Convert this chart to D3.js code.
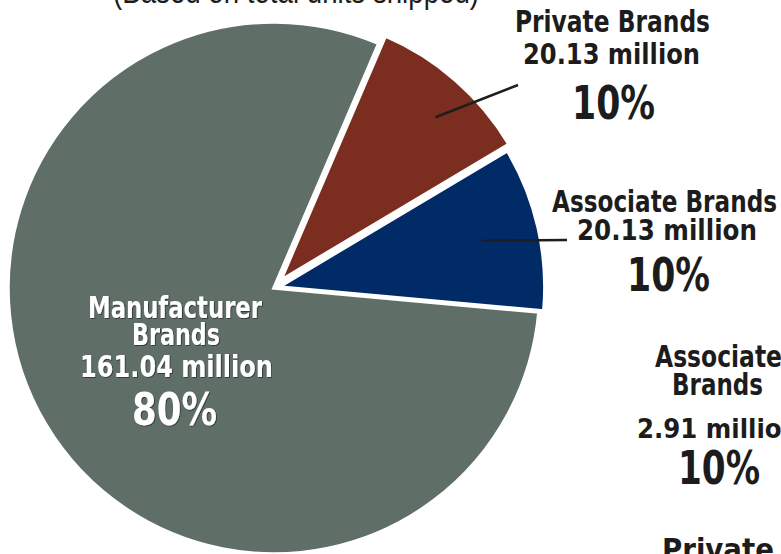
<!DOCTYPE html>
<html>
<head>
<meta charset="utf-8">
<script src="https://cdn.jsdelivr.net/npm/d3@7"></script>
<style>
  html, body { margin: 0; padding: 0; background: #ffffff; }
  svg { display: block; }
  .lbl { font-family: "DejaVu Sans", sans-serif; font-weight: bold; font-stretch: condensed; }
</style>
</head>
<body>
<svg id="chart" width="781" height="554"></svg>
<script>
// Brand share of units (millions)
const categories = ["Private Brands", "Associate Brands", "Manufacturer Brands"];
const values = [20.13, 20.13, 161.04];
const percents = ["10%", "10%", "80%"];
const subtitle = "(Based on total units shipped)";
// Labels of the neighbouring panel on the right
const sideLabels = ["Associate", "Brands", "2.91 million", "10%", "Private"];

const colors = ["#7b2e20", "#002b66", "#5f6e66"];

const svg = d3.select("#chart");
const defs = svg.append("defs");
defs.append("filter").attr("id", "shade")
  .attr("x", "-5%").attr("y", "-10%").attr("width", "110%").attr("height", "130%")
  .append("feDropShadow")
  .attr("dx", 0.8).attr("dy", 0.8).attr("stdDeviation", 0.6)
  .attr("flood-color", "#222a26").attr("flood-opacity", 0.9);

const cx = 274, cy = 288, R = 266;
// small pull-out of the two minor slices along their bisectors
const explode = [10, 5, 0];

const pie = d3.pie().sort(null).value(d => d)
  .startAngle(23.2 * Math.PI / 180)
  .endAngle((23.2 + 360) * Math.PI / 180);
const arcs = pie(values);
const arc = d3.arc().innerRadius(0).outerRadius(R);

const offset = (a, dist) => {
  const m = (a.startAngle + a.endAngle) / 2;
  return [dist * Math.sin(m), -dist * Math.cos(m)];
};

const g = svg.append("g").attr("transform", `translate(${cx},${cy})`);

// draw the large slice first so the pulled-out ones sit on top
const drawOrder = [2, 0, 1];
g.selectAll("path.slice")
  .data(drawOrder.map(i => ({ a: arcs[i], i })))
  .join("path")
  .attr("class", "slice")
  .attr("transform", d => { const o = offset(d.a, explode[d.i]); return `translate(${o[0]},${o[1]})`; })
  .attr("d", d => arc(d.a))
  .attr("fill", d => colors[d.i])
  .attr("stroke", "#ffffff")
  .attr("stroke-width", 3.5)
  .attr("stroke-linejoin", "miter");

// leader lines from inside the minor slices out to their labels
const leaders = [
  { i: 0, r: 225, angle: 43.5, to: [518, 85] },
  { i: 1, r: 208, angle: 77.2, to: [567, 240] }
];
leaders.forEach(l => {
  const o = offset(arcs[l.i], explode[l.i]);
  const t = l.angle * Math.PI / 180;
  const x0 = cx + o[0] + l.r * Math.sin(t);
  const y0 = cy + o[1] - l.r * Math.cos(t);
  svg.append("line")
    .attr("x1", x0).attr("y1", y0)
    .attr("x2", l.to[0]).attr("y2", l.to[1])
    .attr("stroke", "#1e1e1e").attr("stroke-width", 2.6);
});

const fmt = v => d3.format(".2f")(v) + " million";

// text blocks: [text, left x, baseline, size, width]
const blocks = [
  { fill: "#1c1c1c", shade: false, lines: [
    [categories[0], 515, 32, 30, 195],
    [fmt(values[0]), 523, 64, 28, 177],
    [percents[0], 572, 119, 46, 83]
  ]},
  { fill: "#1c1c1c", shade: false, lines: [
    [categories[1], 552, 212, 30, 225],
    [fmt(values[1]), 577, 240, 28, 180],
    [percents[1], 627, 291, 46, 83]
  ]},
  { fill: "#ffffff", shade: true, lines: [
    ["Manufacturer", 88, 318, 31, 174],
    ["Brands", 132, 345, 31, 88],
    [fmt(values[2]), 80, 377, 31, 193],
    [percents[2], 132, 425, 44, 85]
  ]},
  { fill: "#1c1c1c", shade: false, lines: [
    [sideLabels[0], 655, 367, 30, 127],
    [sideLabels[1], 672, 395, 30, 91],
    [sideLabels[2], 637, 438, 27, 162],
    [sideLabels[3], 678, 484, 46, 82],
    [sideLabels[4], 662, 560, 30, 112]
  ]}
];

blocks.forEach(b => {
  const tg = svg.append("g").attr("fill", b.fill);
  if (b.shade) tg.attr("filter", "url(#shade)");
  tg.selectAll("text").data(b.lines).join("text")
    .attr("class", "lbl")
    .attr("x", d => d[1]).attr("y", d => d[2])
    .attr("font-size", d => d[3])
    .attr("textLength", d => d[4])
    .attr("lengthAdjust", "spacingAndGlyphs")
    .text(d => d[0]);
});

// subtitle, mostly above the visible area
svg.append("text")
  .attr("x", 113).attr("y", 3)
  .attr("font-family", "'Liberation Sans', Arial, sans-serif")
  .attr("font-size", 34)
  .attr("fill", "#1c1c1c")
  .attr("textLength", 366)
  .attr("lengthAdjust", "spacingAndGlyphs")
  .text(subtitle);
</script>
</body>
</html>
